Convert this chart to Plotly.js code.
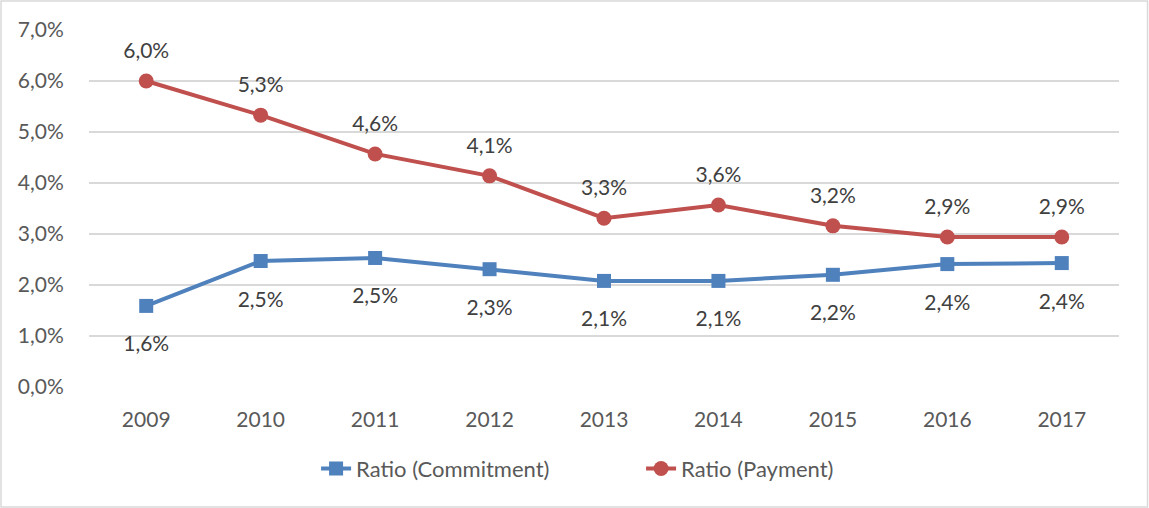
<!DOCTYPE html>
<html><head><meta charset="utf-8">
<script src="https://cdn.plot.ly/plotly-3.0.1.min.js"></script>
<style>html,body{margin:0;padding:0;background:#fff;}#chart{width:1149px;height:508px;}</style>
</head><body><div id="chart"></div>
<script>
const years = ['2009','2010','2011','2012','2013','2014','2015','2016','2017'];
const commitment = [0.0159, 0.0247, 0.0253, 0.0231, 0.0208, 0.0208, 0.0220, 0.0241, 0.0243];
const payment = [0.0600, 0.0533, 0.0457, 0.0414, 0.0331, 0.0357, 0.0316, 0.0294, 0.0294];
const fam = 'Lato, "Open Sans", sans-serif';
const labelFont = {family: fam, size: 21, color: '#404040'};
const traces = [
  {x: years, y: commitment, name: 'Ratio (Commitment)', type: 'scatter', mode: 'lines+markers',
   line: {color: '#4f81bd', width: 4}, marker: {symbol: 'square', size: 14, color: '#4f81bd'}, cliponaxis: false},
  {x: years, y: payment, name: 'Ratio (Payment)', type: 'scatter', mode: 'lines+markers',
   line: {color: '#c0504d', width: 4}, marker: {symbol: 'circle', size: 15, color: '#c0504d'}, cliponaxis: false},
  {x: years, y: commitment, type: 'scatter', mode: 'markers+text', showlegend: false, hoverinfo: 'skip',
   marker: {size: 46, opacity: 0}, texttemplate: '%{y:.1%}', textposition: 'bottom center', textfont: labelFont, cliponaxis: false},
  {x: years, y: payment, type: 'scatter', mode: 'markers+text', showlegend: false, hoverinfo: 'skip',
   marker: {size: 27, opacity: 0}, texttemplate: '%{y:.1%}', textposition: 'top center', textfont: labelFont, cliponaxis: false}
];
const layout = {
  width: 1149, height: 508, separators: ', ',
  margin: {l: 89, r: 30, t: 30, b: 121},
  paper_bgcolor: '#fff', plot_bgcolor: '#fff', font: {family: fam, size: 21, color: '#595959'},
  xaxis: {type: 'category', range: [-0.5, 8.5], showgrid: false, zeroline: false, showline: false,
          ticks: 'outside', ticklen: 14, tickcolor: 'rgba(0,0,0,0)', tickfont: {family: fam, size: 21, color: '#595959'}},
  yaxis: {range: [0, 0.07], dtick: 0.01, tickformat: '.1%', showgrid: true, gridcolor: '#d9d9d9', gridwidth: 1.5,
          zeroline: false, showline: false, ticks: 'outside', ticklen: 20, tickcolor: 'rgba(0,0,0,0)',
          tickfont: {family: fam, size: 21, color: '#595959'}},
  legend: {orientation: 'h', x: 0.536, xanchor: 'center', y: -0.17, yanchor: 'top', entrywidth: 280, entrywidthmode: 'pixels',
           font: {family: fam, size: 22, color: '#595959'}},
  showlegend: true,
  shapes: [{type: 'rect', xref: 'paper', yref: 'paper', x0: -0.0854, x1: 1.0277, y0: -0.336, y1: 1.081,
            line: {color: '#d9d9d9', width: 1.5}}]
};
Plotly.newPlot('chart', traces, layout, {displayModeBar: false, staticPlot: true});
</script></body></html>
